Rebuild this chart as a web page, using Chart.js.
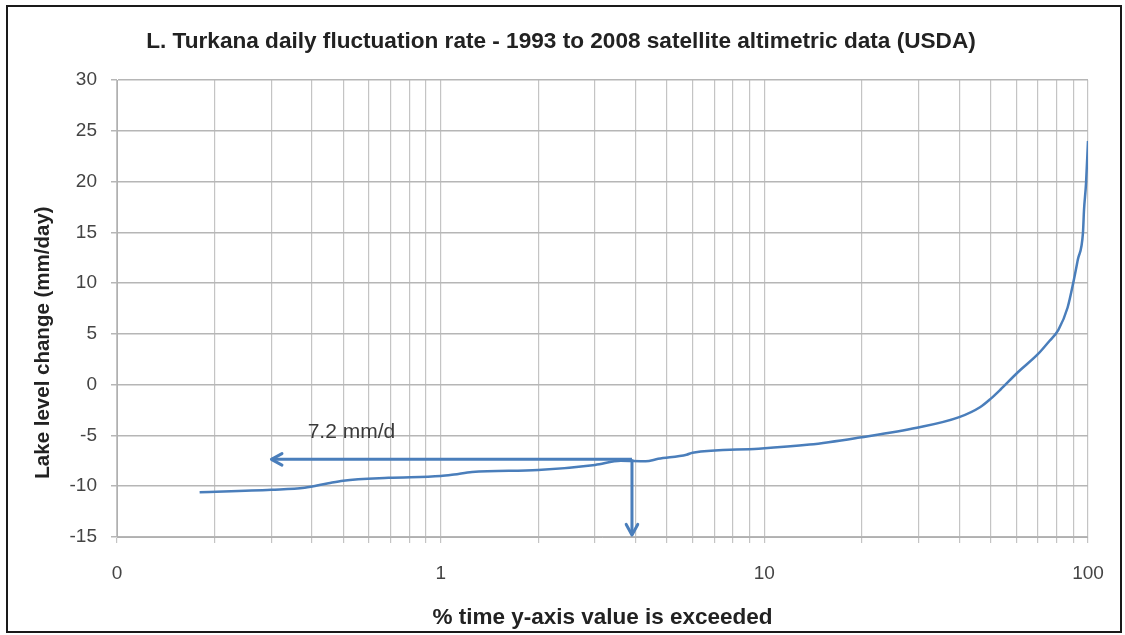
<!DOCTYPE html>
<html>
<head>
<meta charset="utf-8">
<script src="https://cdn.jsdelivr.net/npm/chart.js@4"></script>
<style>
  html, body { margin: 0; padding: 0; background: #fff; }
  #wrap { position: relative; width: 1125px; height: 635px; }
  #frame { position: absolute; left: 6px; top: 5px; width: 1112px; height: 624px; border: 2px solid #1a1a1a; }
  canvas { position: absolute; left: 0; top: 0; }
</style>
</head>
<body>
<div id="wrap">
  <canvas id="chart" width="1125" height="635"></canvas>
  <div id="frame"></div>
</div>
<script>
// % of time the value is exceeded, and the lake level change (mm/day)
const percentExceeded = [0.18, 0.3, 0.38, 0.45, 0.5, 0.69, 1.0, 1.1, 1.25, 2.0, 3.0, 3.6, 4.3, 4.7,
    5.75, 6.0, 9.6, 13.8, 19.7, 29.6, 40, 46.5, 50, 53.6, 60.6, 70, 76, 81, 86.5, 90, 93,
    96.5, 97.2, 98.6, 100];
const levelChange = [-10.6, -10.35, -10.15, -9.7, -9.45, -9.17, -9.0, -8.85, -8.6, -8.4, -7.9, -7.5, -7.55, -7.3,
    -6.9, -6.7, -6.3, -5.9, -5.2, -4.25, -3.2, -2.2, -1.4, -0.5, 1.2, 3.0, 4.3, 5.4, 7.6, 10, 12.3,
    15, 17.2, 19.8, 24];

// the 7.2 mm/d reading arrows
const arrowLeftX = [3.9, 0.3];
const arrowLeftY = [-7.35, -7.35];
const arrowDownX = [3.9, 3.9];
const arrowDownY = [-7.35, -14.8];
const noteText = '7.2 mm/d';
const noteAt = [0.53, -4.65];

// axis ticks
const xDecades = [0.1, 1, 10];
const xLabels = { 0.1: '0', 1: '1', 10: '10', 100: '100' };
const yMin = -15, yMax = 30, yStep = 5;

const chartTitle = 'L. Turkana daily fluctuation rate - 1993 to 2008 satellite altimetric data (USDA)';
const xTitle = '% time y-axis value is exceeded';
const yTitle = 'Lake level change (mm/day)';

const lineBlue = '#4A7EBB';
const font = '"Liberation Sans", Arial, sans-serif';

function toPoints(xs, ys) {
    return xs.map((v, i) => ({ x: v, y: ys[i] }));
}

const xGrid = [];
xDecades.forEach(d => {
    for (let m = 1; m <= 9; m++) xGrid.push(d * m);
});
xGrid.push(100);

// arrow heads, the 7.2 mm/d note and the y axis title (sits a bit below centre in the original)
const extras = {
    id: 'extras',
    afterDatasetsDraw(chart) {
        const { ctx, chartArea, scales: { x, y } } = chart;
        chart.data.datasets.forEach(ds => {
            if (!ds.arrow) return;
            const n = ds.data.length;
            const a = ds.data[n - 2], b = ds.data[n - 1];
            const x0 = x.getPixelForValue(a.x), y0 = y.getPixelForValue(a.y);
            const x1 = x.getPixelForValue(b.x), y1 = y.getPixelForValue(b.y);
            const ang = Math.atan2(y1 - y0, x1 - x0);
            const len = 12, spread = 0.5;
            ctx.save();
            ctx.strokeStyle = ds.borderColor;
            ctx.lineWidth = ds.borderWidth;
            ctx.lineCap = 'round';
            ctx.lineJoin = 'round';
            ctx.beginPath();
            ctx.moveTo(x1 - len * Math.cos(ang - spread), y1 - len * Math.sin(ang - spread));
            ctx.lineTo(x1, y1);
            ctx.lineTo(x1 - len * Math.cos(ang + spread), y1 - len * Math.sin(ang + spread));
            ctx.stroke();
            ctx.restore();
        });

        ctx.save();
        ctx.font = '21px ' + font;
        ctx.fillStyle = '#3a3a3a';
        ctx.textAlign = 'center';
        ctx.textBaseline = 'middle';
        ctx.fillText(noteText, x.getPixelForValue(noteAt[0]), y.getPixelForValue(noteAt[1]));

        ctx.font = 'bold 20.5px ' + font;
        ctx.fillStyle = '#222';
        ctx.translate(chartArea.left - 74, (chartArea.top + chartArea.bottom) / 2 + 34);
        ctx.rotate(-Math.PI / 2);
        ctx.fillText(yTitle, 0, 0);
        ctx.restore();
    }
};

new Chart(document.getElementById('chart'), {
    type: 'line',
    data: {
        datasets: [
            {
                data: toPoints(percentExceeded, levelChange),
                borderColor: lineBlue,
                borderWidth: 2.5,
                pointRadius: 0,
                cubicInterpolationMode: 'monotone',
                fill: false
            },
            {
                data: toPoints(arrowLeftX, arrowLeftY),
                borderColor: lineBlue,
                borderWidth: 3,
                pointRadius: 0,
                arrow: true
            },
            {
                data: toPoints(arrowDownX, arrowDownY),
                borderColor: lineBlue,
                borderWidth: 3,
                pointRadius: 0,
                arrow: true
            }
        ]
    },
    options: {
        responsive: false,
        animation: false,
        layout: { padding: { left: 34, right: 37, top: 0, bottom: 0 } },
        plugins: {
            legend: { display: false },
            tooltip: { enabled: false },
            title: {
                display: true,
                text: chartTitle,
                color: '#222',
                font: { family: font, size: 22.6, weight: 'bold' },
                padding: { top: 28.5, bottom: 24.4 }
            }
        },
        scales: {
            x: {
                type: 'logarithmic',
                min: 0.1,
                max: 100,
                afterBuildTicks: scale => {
                    scale.ticks = xGrid.map(v => ({ value: v }));
                },
                afterFit: scale => { scale.height = 98; },
                ticks: {
                    autoSkip: false,
                    maxRotation: 0,
                    padding: 19,
                    color: '#444',
                    font: { family: font, size: 19 },
                    callback: value => xLabels[value] !== undefined ? xLabels[value] : ''
                },
                grid: { color: '#c4c4c4', lineWidth: 1.2, tickLength: 6 },
                border: { color: '#b0b0b0' },
                title: {
                    display: true,
                    text: xTitle,
                    color: '#222',
                    font: { family: font, size: 22.5, weight: 'bold' },
                    padding: { top: 0, bottom: 3.5 }
                }
            },
            y: {
                min: yMin,
                max: yMax,
                afterFit: scale => { scale.width = 83; },
                ticks: {
                    stepSize: yStep,
                    padding: 14,
                    color: '#444',
                    font: { family: font, size: 19 }
                },
                grid: { color: '#b6b6b6', lineWidth: 1.5, tickLength: 6 },
                border: { color: '#b0b0b0' }
            }
        }
    },
    plugins: [extras]
});
</script>
</body>
</html>
